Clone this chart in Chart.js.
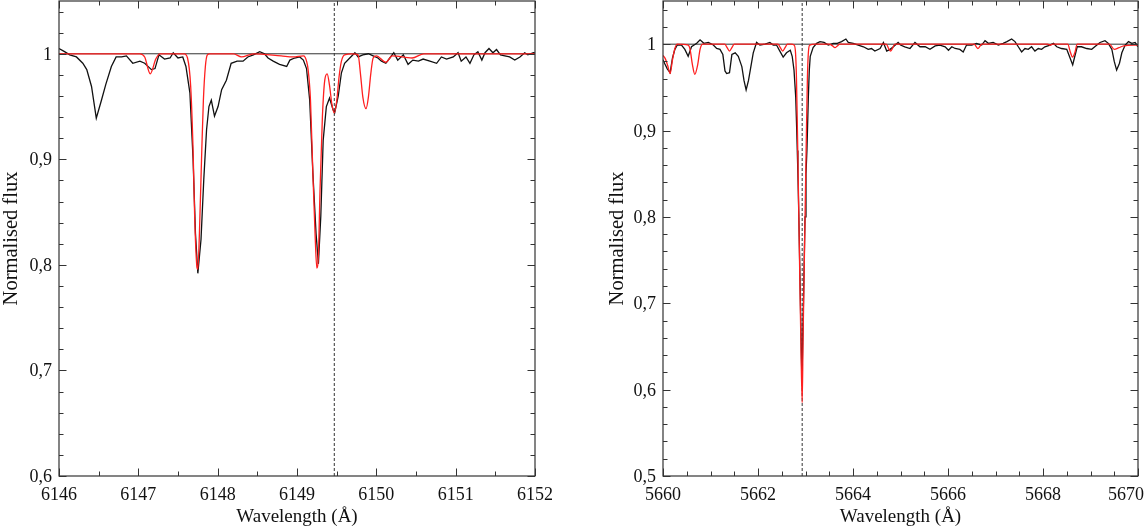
<!DOCTYPE html>
<html lang="en">
  <head>
    <meta charset="UTF-8" />
    <title>Normalised flux</title>
    <script src="https://cdn.jsdelivr.net/npm/chart.js"></script>
    <style>
      body { margin: 0; width: 1145px; height: 530px; overflow: hidden; background: #fff; }
      .panel { position: absolute; top: 0; height: 530px; }
    </style>
  </head>
  <body>
    <div class="panel" style="left: 0; width: 560px"><canvas id="left" width="560" height="530"></canvas></div>
    <div class="panel" style="left: 606px; width: 539px"><canvas id="right" width="539" height="530"></canvas></div>

    <script>
      // left panel: observed (black) and model (red)
      const leftObsWave = [6146.00, 6146.07, 6146.135, 6146.22, 6146.30, 6146.35, 6146.41, 6146.47, 6146.535, 6146.59, 6146.66, 6146.72, 6146.79, 6146.85, 6146.93, 6147.02, 6147.08, 6147.165, 6147.21, 6147.26, 6147.33, 6147.40, 6147.44, 6147.50, 6147.56, 6147.60, 6147.65, 6147.69, 6147.72, 6147.75, 6147.79, 6147.825, 6147.86, 6147.89, 6147.92, 6147.96, 6148.005, 6148.05, 6148.11, 6148.17, 6148.245, 6148.32, 6148.38, 6148.45, 6148.53, 6148.59, 6148.635, 6148.70, 6148.78, 6148.87, 6148.91, 6148.97, 6149.035, 6149.08, 6149.12, 6149.16, 6149.20, 6149.24, 6149.27, 6149.30, 6149.33, 6149.37, 6149.41, 6149.455, 6149.475, 6149.52, 6149.56, 6149.60, 6149.665, 6149.73, 6149.77, 6149.83, 6149.90, 6149.96, 6150.02, 6150.065, 6150.12, 6150.17, 6150.22, 6150.27, 6150.34, 6150.40, 6150.46, 6150.53, 6150.59, 6150.675, 6150.76, 6150.82, 6150.885, 6150.97, 6151.03, 6151.07, 6151.13, 6151.18, 6151.23, 6151.28, 6151.33, 6151.37, 6151.42, 6151.47, 6151.515, 6151.565, 6151.62, 6151.68, 6151.745, 6151.81, 6151.87, 6151.91, 6151.98, 6152.05];
      const leftObsFlux = [1.005, 1.002, 0.999, 0.997, 0.991, 0.985, 0.969, 0.939, 0.956, 0.971, 0.988, 0.997, 0.997, 0.998, 0.991, 0.993, 0.991, 0.985, 0.986, 0.999, 0.995, 0.996, 1.001, 0.996, 0.997, 0.988, 0.963, 0.900, 0.830, 0.792, 0.824, 0.881, 0.928, 0.950, 0.956, 0.941, 0.950, 0.966, 0.975, 0.991, 0.993, 0.993, 0.997, 0.999, 1.002, 1.000, 0.996, 0.993, 0.990, 0.988, 0.994, 0.996, 0.997, 0.994, 0.986, 0.956, 0.887, 0.830, 0.801, 0.846, 0.918, 0.950, 0.958, 0.947, 0.944, 0.960, 0.982, 0.991, 0.996, 1.001, 0.997, 0.999, 1.000, 0.998, 0.996, 0.993, 0.991, 0.996, 1.001, 0.994, 0.999, 0.990, 0.994, 0.993, 0.995, 0.993, 0.991, 0.997, 0.995, 0.997, 1.001, 0.993, 0.997, 0.991, 0.999, 1.002, 0.994, 1.001, 1.005, 1.001, 1.004, 0.999, 0.998, 0.997, 0.994, 0.997, 1.001, 0.999, 1.001, 1.000];
      const leftModelWave = [6146.00, 6147.02, 6147.08, 6147.15, 6147.22, 6147.27, 6147.58, 6147.62, 6147.66, 6147.69, 6147.71, 6147.735, 6147.75, 6147.77, 6147.80, 6147.82, 6147.845, 6147.87, 6147.90, 6148.20, 6148.30, 6148.45, 6148.80, 6148.95, 6149.08, 6149.10, 6149.14, 6149.17, 6149.20, 6149.23, 6149.25, 6149.27, 6149.29, 6149.32, 6149.35, 6149.38, 6149.41, 6149.44, 6149.47, 6149.50, 6149.53, 6149.56, 6149.60, 6149.70, 6149.77, 6149.80, 6149.83, 6149.87, 6149.90, 6149.93, 6149.96, 6150.00, 6150.12, 6150.20, 6150.45, 6150.60, 6152.05];
      const leftModelFlux = [1.000, 1.000, 0.997, 0.981, 0.995, 1.000, 1.000, 0.996, 0.969, 0.909, 0.846, 0.801, 0.796, 0.830, 0.909, 0.956, 0.988, 0.999, 1.000, 1.000, 0.997, 1.000, 0.998, 0.997, 0.998, 0.997, 0.985, 0.956, 0.887, 0.825, 0.797, 0.810, 0.870, 0.940, 0.975, 0.981, 0.970, 0.952, 0.944, 0.955, 0.978, 0.993, 0.999, 1.000, 0.999, 0.981, 0.959, 0.948, 0.959, 0.981, 0.996, 0.998, 0.992, 0.998, 0.996, 1.000, 1.000];

      // right panel
      const rightObsWave = [5660.00, 5660.04, 5660.09, 5660.15, 5660.20, 5660.25, 5660.30, 5660.39, 5660.46, 5660.53, 5660.60, 5660.71, 5660.78, 5660.86, 5660.955, 5661.06, 5661.13, 5661.20, 5661.26, 5661.305, 5661.34, 5661.40, 5661.45, 5661.52, 5661.585, 5661.66, 5661.705, 5661.75, 5661.80, 5661.85, 5661.90, 5661.97, 5662.04, 5662.15, 5662.25, 5662.32, 5662.39, 5662.46, 5662.53, 5662.60, 5662.68, 5662.72, 5662.758, 5662.794, 5662.815, 5662.827, 5662.84, 5662.86, 5662.88, 5662.90, 5662.925, 5662.95, 5662.97, 5662.99, 5663.01, 5663.03, 5663.06, 5663.08, 5663.10, 5663.16, 5663.235, 5663.305, 5663.39, 5663.48, 5663.585, 5663.67, 5663.76, 5663.85, 5663.90, 5664.005, 5664.11, 5664.22, 5664.32, 5664.39, 5664.46, 5664.57, 5664.64, 5664.71, 5664.78, 5664.85, 5664.95, 5665.00, 5665.09, 5665.20, 5665.305, 5665.41, 5665.52, 5665.62, 5665.73, 5665.83, 5665.94, 5666.01, 5666.08, 5666.15, 5666.25, 5666.32, 5666.39, 5666.50, 5666.60, 5666.71, 5666.78, 5666.85, 5666.95, 5667.06, 5667.16, 5667.24, 5667.34, 5667.41, 5667.48, 5667.55, 5667.62, 5667.69, 5667.76, 5667.83, 5667.90, 5667.97, 5668.04, 5668.15, 5668.22, 5668.29, 5668.39, 5668.50, 5668.57, 5668.625, 5668.67, 5668.72, 5668.81, 5668.92, 5669.025, 5669.09, 5669.20, 5669.305, 5669.375, 5669.45, 5669.50, 5669.55, 5669.61, 5669.66, 5669.73, 5669.80, 5669.87, 5669.94, 5670.00];
      const rightObsFlux = [0.982, 0.977, 0.9715, 0.967, 0.984, 0.994, 0.999, 0.999, 0.994, 0.986, 0.997, 1.001, 1.005, 1.001, 1.002, 0.999, 0.995, 0.994, 0.988, 0.969, 0.966, 0.967, 0.988, 0.990, 0.986, 0.974, 0.958, 0.947, 0.958, 0.974, 0.990, 1.002, 0.999, 1.000, 1.002, 0.999, 0.999, 0.992, 0.985, 0.990, 0.993, 0.986, 0.970, 0.939, 0.901, 0.877, 0.850, 0.800, 0.740, 0.680, 0.608, 0.680, 0.740, 0.800, 0.850, 0.877, 0.939, 0.970, 0.986, 0.996, 1.001, 1.003, 1.002, 0.999, 1.001, 1.001, 1.003, 1.006, 1.002, 1.001, 0.999, 0.997, 0.994, 0.995, 0.992, 0.995, 1.002, 0.992, 0.994, 0.997, 1.002, 0.999, 0.997, 0.995, 1.002, 0.997, 0.997, 0.994, 0.998, 0.999, 0.997, 0.993, 0.997, 0.995, 0.994, 0.991, 0.999, 0.999, 1.001, 0.999, 1.004, 1.001, 1.002, 0.999, 1.001, 1.003, 1.006, 1.003, 0.997, 0.991, 0.995, 0.994, 0.997, 0.992, 0.995, 0.994, 0.997, 0.999, 1.001, 0.997, 0.995, 0.994, 0.984, 0.976, 0.986, 0.997, 0.997, 0.995, 0.994, 0.997, 1.002, 1.004, 1.001, 0.994, 0.980, 0.970, 0.978, 0.990, 0.999, 1.003, 1.001, 1.002, 0.997];
      const rightModelWave = [5660.00, 5660.05, 5660.10, 5660.15, 5660.20, 5660.25, 5660.30, 5660.53, 5660.57, 5660.62, 5660.67, 5660.73, 5660.78, 5660.835, 5661.30, 5661.35, 5661.40, 5661.45, 5661.50, 5662.42, 5662.47, 5662.52, 5662.57, 5662.62, 5662.70, 5662.76, 5662.79, 5662.81, 5662.83, 5662.86, 5662.88, 5662.90, 5662.93, 5662.95, 5662.97, 5662.99, 5663.02, 5663.04, 5663.06, 5663.09, 5663.20, 5663.50, 5663.57, 5663.62, 5663.67, 5663.72, 5664.70, 5664.75, 5664.79, 5664.83, 5664.88, 5666.55, 5666.63, 5666.71, 5668.10, 5668.15, 5668.20, 5668.52, 5668.58, 5668.62, 5668.67, 5668.72, 5669.40, 5669.50, 5669.60, 5669.70, 5670.00];
      const rightModelFlux = [0.987, 0.983, 0.975, 0.966, 0.982, 0.995, 1.000, 0.999, 0.994, 0.976, 0.965, 0.976, 0.994, 1.000, 1.000, 0.996, 0.992, 0.996, 1.000, 1.000, 0.996, 0.992, 0.996, 1.000, 1.000, 0.999, 0.990, 0.960, 0.900, 0.800, 0.730, 0.665, 0.585, 0.665, 0.730, 0.800, 0.900, 0.960, 0.990, 0.999, 1.000, 1.000, 0.998, 0.996, 0.998, 1.000, 1.000, 0.995, 0.992, 0.995, 1.000, 1.000, 0.995, 1.000, 1.000, 0.999, 1.000, 1.000, 0.990, 0.985, 0.990, 1.000, 1.000, 0.994, 0.996, 0.998, 0.999];

      // line centres marked with the dashed verticals
      const leftMarker = 6149.47;
      const rightMarker = 5662.93;

      // axis ranges and tick labels
      const leftXRange = [6146, 6152];
      const leftYRange = [0.6, 1.05];
      const rightXRange = [5660, 5670];
      const rightYRange = [0.5, 1.05];
      const leftXTicks = [6146, 6147, 6148, 6149, 6150, 6151, 6152];
      const leftYTicks = [0.6, 0.7, 0.8, 0.9, 1];
      const rightXTicks = [5660, 5662, 5664, 5666, 5668, 5670];
      const rightYTicks = [0.5, 0.6, 0.7, 0.8, 0.9, 1];

      const zip = (xs, ys) => xs.map((x, i) => ({ x: x, y: ys[i] }));

      function minorTicks(lo, hi, step, majors) {
        const out = [];
        for (let v = lo; v <= hi + 1e-9; v += step) {
          const r = Math.round(v * 1000) / 1000;
          if (!majors.some((m) => Math.abs(m - r) < 1e-6)) out.push(r);
        }
        return out;
      }

      const serif = "'Liberation Serif', 'DejaVu Serif', serif";

      // inward tick marks on all four sides, frame and tick labels
      const frameTicks = {
        id: "frameTicks",
        afterDatasetsDraw(chart, args, opts) {
          const { ctx, chartArea: a } = chart;
          const x = chart.scales.x;
          const y = chart.scales.y;
          ctx.save();
          ctx.strokeStyle = "#333";
          ctx.lineWidth = 1.2;
          ctx.strokeRect(a.left, a.top, a.right - a.left, a.bottom - a.top);
          ctx.lineWidth = 1;
          ctx.beginPath();
          const xt = (v, len) => {
            const p = Math.round(x.getPixelForValue(v)) + 0.5;
            ctx.moveTo(p, a.bottom); ctx.lineTo(p, a.bottom - len);
            ctx.moveTo(p, a.top); ctx.lineTo(p, a.top + len);
          };
          const yt = (v, len) => {
            const p = Math.round(y.getPixelForValue(v)) + 0.5;
            ctx.moveTo(a.left, p); ctx.lineTo(a.left + len, p);
            ctx.moveTo(a.right, p); ctx.lineTo(a.right - len, p);
          };
          opts.xMajor.forEach((v) => xt(v, 7.5));
          opts.xMinor.forEach((v) => xt(v, 4.5));
          opts.yMajor.forEach((v) => yt(v, 7.5));
          opts.yMinor.forEach((v) => yt(v, 4.5));
          ctx.stroke();

          ctx.fillStyle = "#111";
          ctx.font = "18px " + serif;
          ctx.textBaseline = "alphabetic";
          ctx.textAlign = "center";
          opts.xMajor.forEach((v) => {
            const t = String(v);
            const w = ctx.measureText(t).width;
            let p = x.getPixelForValue(v);
            p = Math.min(p, chart.width - w / 2 - 1);
            ctx.fillText(t, p, a.bottom + 23.5);
          });
          ctx.textAlign = "right";
          opts.yMajor.forEach((v) => {
            const t = v === 1 ? "1" : v.toFixed(1).replace(".", ",");
            ctx.fillText(t, a.left - 7, y.getPixelForValue(v) + 6);
          });
          ctx.restore();
        },
      };

      function makeChart(id, obsW, obsF, modW, modF, marker, xr, yr, xMajor, yMajor, xMinorStep, yWidth, padRight) {
        const ctx = document.getElementById(id).getContext("2d");
        return new Chart(ctx, {
          type: "line",
          data: {
            datasets: [
              {
                label: "model",
                data: zip(modW, modF),
                borderColor: "#ff1f1f",
                borderWidth: 1.3,
                pointRadius: 0,
                cubicInterpolationMode: "monotone",
              },
              {
                label: "observed",
                data: zip(obsW, obsF),
                borderColor: "#111",
                borderWidth: 1.3,
                pointRadius: 0,
                tension: 0,
              },
              {
                label: "continuum",
                data: [{ x: xr[0], y: 1 }, { x: xr[1], y: 1 }],
                borderColor: "#333",
                borderWidth: 1,
                pointRadius: 0,
              },
              {
                label: "line centre",
                data: [{ x: marker, y: yr[0] }, { x: marker, y: yr[1] }],
                borderColor: "#333",
                borderWidth: 1,
                borderDash: [3, 2],
                pointRadius: 0,
              },
            ],
          },
          options: {
            responsive: false,
            animation: false,
            events: [],
            layout: { padding: { left: 0, right: padRight, top: 1, bottom: 0 } },
            plugins: {
              legend: { display: false },
              tooltip: { enabled: false },
              frameTicks: {
                xMajor: xMajor,
                yMajor: yMajor,
                xMinor: minorTicks(xr[0], xr[1], xMinorStep, xMajor),
                yMinor: minorTicks(yr[0], yr[1], 0.02, yMajor),
              },
            },
            scales: {
              x: {
                type: "linear",
                min: xr[0],
                max: xr[1],
                grid: { display: false },
                border: { display: false },
                ticks: { display: false },
                title: {
                  display: true,
                  text: "Wavelength (Å)",
                  color: "#111",
                  font: { family: serif, size: 19 },
                  padding: { top: 0, bottom: 2 },
                },
                afterFit: (s) => { s.height = 54; },
              },
              y: {
                min: yr[0],
                max: yr[1],
                grid: { display: false },
                border: { display: false },
                ticks: { display: false },
                title: {
                  display: true,
                  text: "Normalised flux",
                  color: "#111",
                  font: { family: serif, size: 20.5 },
                  padding: { top: -1, bottom: 0 },
                },
                afterFit: (s) => { s.width = yWidth; },
              },
            },
          },
          plugins: [frameTicks],
        });
      }

      makeChart("left", leftObsWave, leftObsFlux, leftModelWave, leftModelFlux, leftMarker,
        leftXRange, leftYRange, leftXTicks, leftYTicks, 0.5, 59, 25);
      makeChart("right", rightObsWave, rightObsFlux, rightModelWave, rightModelFlux, rightMarker,
        rightXRange, rightYRange, rightXTicks, rightYTicks, 0.5, 57, 7);
    </script>
  </body>
</html>
